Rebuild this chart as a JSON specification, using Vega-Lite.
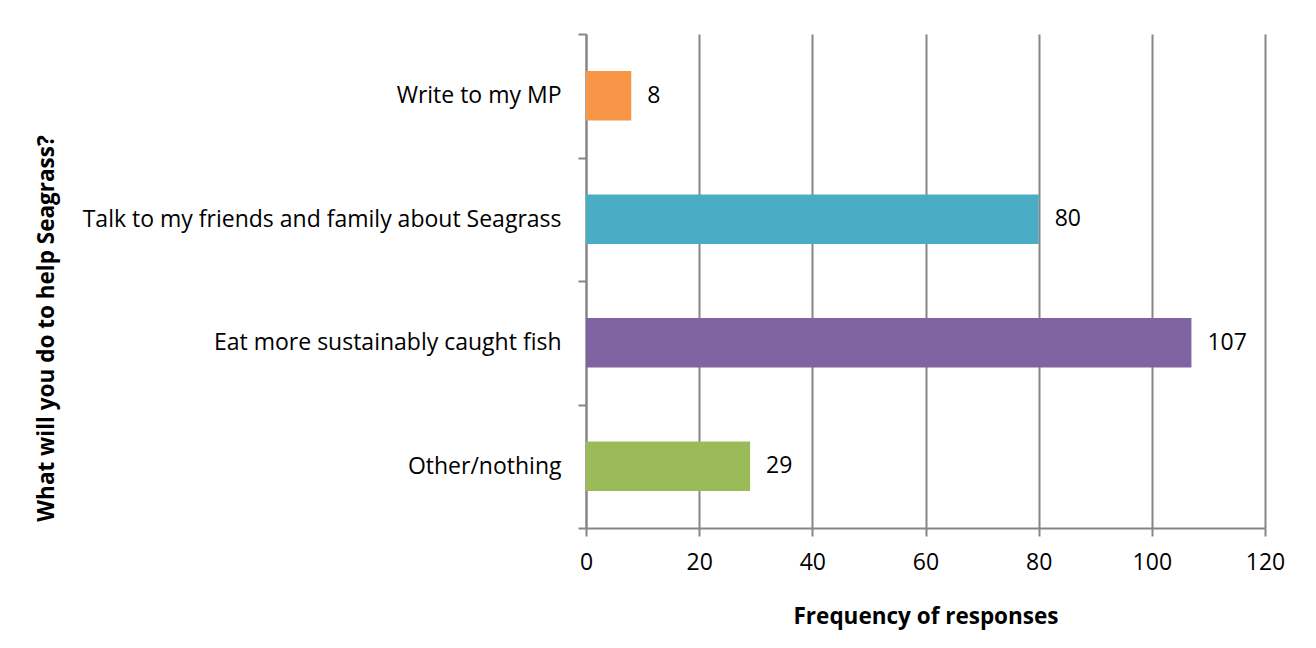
{
  "$schema": "https://vega.github.io/schema/vega-lite/v6.json",
  "autosize": {"type": "none"},
  "padding": {"left": 586, "top": 34, "right": 51, "bottom": 120},
  "width": 679,
  "height": 494,
  "background": "white",
  "config": {
    "font": "Open Sans",
    "view": {"stroke": null}
  },
  "data": {
    "values": [
      {"action": "Write to my MP", "responses": 8},
      {"action": "Talk to my friends and family about Seagrass", "responses": 80},
      {"action": "Eat more sustainably caught fish", "responses": 107},
      {"action": "Other/nothing", "responses": 29}
    ]
  },
  "encoding": {
    "y": {
      "field": "action",
      "type": "nominal",
      "sort": null,
      "scale": {"paddingInner": 0, "paddingOuter": 0},
      "axis": {
        "title": "What will you do to help Seagrass?",
        "titleFont": "Open Sans",
        "titleFontSize": 22.5,
        "titleFontWeight": "bold",
        "titleColor": "#000000",
        "titleX": -533,
        "titleY": 294,
        "titleAlign": "center",
        "titleBaseline": "alphabetic",
        "titleAngle": -90,
        "labelFont": "Open Sans",
        "labelFontSize": 23,
        "labelColor": "#000000",
        "labelPadding": 17,
        "labelLimit": 600,
        "tickBand": "extent",
        "tickSize": 8,
        "tickColor": "#868686",
        "tickWidth": 2,
        "domainColor": "#868686",
        "domainWidth": 2,
        "grid": false
      }
    },
    "x": {
      "field": "responses",
      "type": "quantitative",
      "scale": {"domain": [0, 120], "nice": false},
      "axis": {
        "title": "Frequency of responses",
        "titleFont": "Open Sans",
        "titleFontSize": 22.5,
        "titleFontWeight": "bold",
        "titleColor": "#000000",
        "titleY": 95,
        "titleBaseline": "alphabetic",
        "values": [0, 20, 40, 60, 80, 100, 120],
        "labelFont": "Open Sans",
        "labelFontSize": 23,
        "labelColor": "#000000",
        "labelPadding": 15,
        "labelFlush": false,
        "tickSize": 8,
        "tickColor": "#868686",
        "tickWidth": 2,
        "domainColor": "#868686",
        "domainWidth": 2,
        "grid": true,
        "gridColor": "#868686",
        "gridWidth": 2
      }
    }
  },
  "layer": [
    {
      "mark": {"type": "bar", "height": {"band": 0.4}},
      "encoding": {
        "color": {
          "field": "action",
          "type": "nominal",
          "scale": {
            "domain": ["Write to my MP", "Talk to my friends and family about Seagrass", "Eat more sustainably caught fish", "Other/nothing"],
            "range": ["#F79646", "#4BACC6", "#8064A2", "#9BBB59"]
          },
          "legend": null
        }
      }
    },
    {
      "mark": {"type": "text", "align": "left", "baseline": "middle", "dx": 16, "font": "Open Sans", "fontSize": 23, "color": "#000000"},
      "encoding": {
        "text": {"field": "responses", "type": "quantitative"}
      }
    }
  ]
}
